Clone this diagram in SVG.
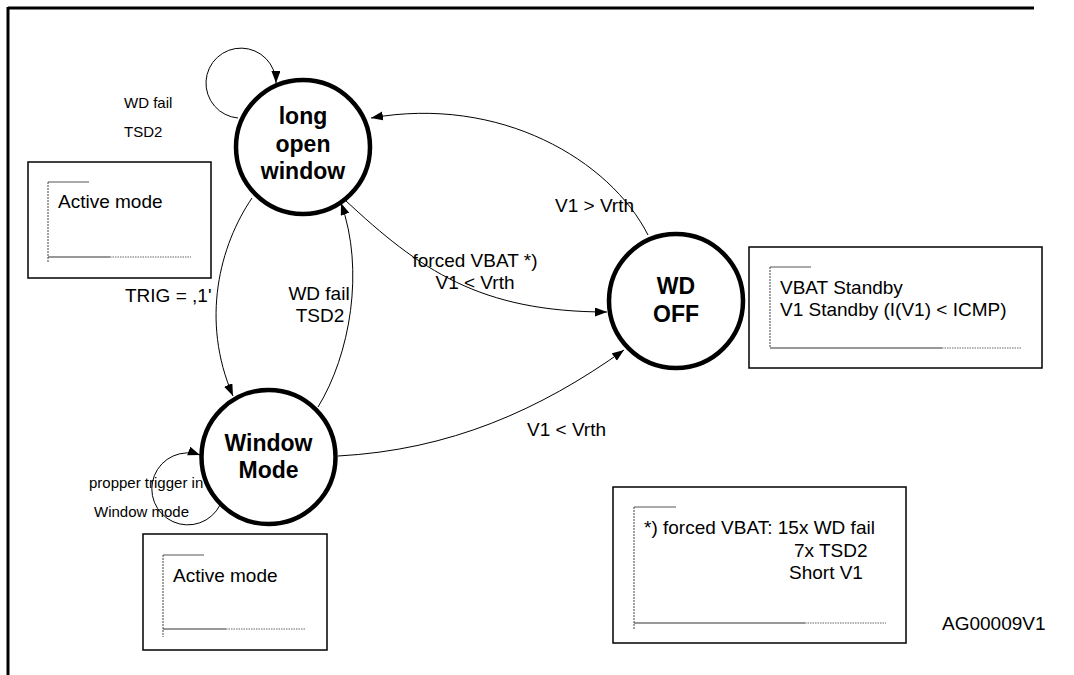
<svg xmlns="http://www.w3.org/2000/svg" width="1074" height="675" viewBox="0 0 1074 675">
<style>
text{font-family:"Liberation Sans",Arial,sans-serif;fill:#000}
.st{font-weight:bold;font-size:23px;text-anchor:middle}
.lb{font-size:19px}
.sm{font-size:15px}
.state{fill:#fff;stroke:#000;stroke-width:4.5}
.edge{fill:none;stroke:#000;stroke-width:1;marker-end:url(#ah)}
.box{fill:#fff;stroke:#000;stroke-width:1.5}
.ftop{stroke:#555;stroke-width:1}
.fvert{stroke:#444;stroke-width:1;stroke-dasharray:2,1}
.fbot{stroke:#333;stroke-width:1.2}
.fdot{stroke:#666;stroke-width:1;stroke-dasharray:1.5,1}
</style>
<defs>
<marker id="ah" markerUnits="userSpaceOnUse" markerWidth="13" markerHeight="10" refX="12" refY="4.5" orient="auto">
<path d="M0,0 L12,4.5 L0,9 z" fill="#000"/>
</marker>
</defs>
<rect x="0" y="0" width="1074" height="675" fill="#fff"/>
<g id="frame" stroke="#000" stroke-width="3" fill="none">
<line x1="8" y1="8" x2="1034" y2="8"/>
<line x1="8" y1="7" x2="8" y2="675"/>
</g>
<g id="connectors">
<path class="edge" d="M238,118 A35,35 0 1 1 276,83"/>
<text class="sm" x="124" y="108">WD fail</text>
<text class="sm" x="124" y="137">TSD2</text>
<path class="edge" d="M220,505 A36,36 0 1 1 200,455"/>
<text class="sm" x="89" y="488">propper trigger in</text>
<text class="sm" x="94" y="517">Window mode</text>
<path class="edge" d="M252,198 C220,245 200,320 233,396"/>
<text class="lb" x="125" y="302">TRIG = ,1'</text>
<path class="edge" d="M318,407 C350,355 365,270 341,203"/>
<text class="lb" x="319" y="300" text-anchor="middle">WD fail</text>
<text class="lb" x="320" y="322" text-anchor="middle">TSD2</text>
<path class="edge" d="M345,200 C420,270 480,312 607,312"/>
<text class="lb" x="475" y="267" text-anchor="middle">forced VBAT *)</text>
<text class="lb" x="475" y="289" text-anchor="middle">V1 &lt; Vrth</text>
<path class="edge" d="M648,235 C610,160 500,95 371,118"/>
<text class="lb" x="555" y="212">V1 &gt; Vrth</text>
<path class="edge" d="M338,456 C450,450 540,410 624,350"/>
<text class="lb" x="527" y="436">V1 &lt; Vrth</text>
</g>
<g id="node-long-open-window">
<circle class="state" cx="303" cy="147" r="67"/>
<text class="st" x="303" y="124">long</text>
<text class="st" x="303" y="152">open</text>
<text class="st" x="303" y="179">window</text>
</g>
<g id="node-window-mode">
<circle class="state" cx="268.5" cy="457" r="67"/>
<text class="st" x="268.5" y="451">Window</text>
<text class="st" x="268.5" y="478">Mode</text>
</g>
<g id="node-wd-off">
<circle class="state" cx="676" cy="301" r="67"/>
<text class="st" x="676" y="294">WD</text>
<text class="st" x="676" y="322">OFF</text>
</g>
<g id="note-active-1">
<rect class="box" x="28" y="162" width="183" height="116"/>
<line class="ftop" x1="48" y1="182" x2="89" y2="182"/>
<line class="fvert" x1="48" y1="182" x2="48" y2="263"/>
<line class="fbot" x1="48" y1="257" x2="110" y2="257"/>
<line class="fdot" x1="110" y1="257" x2="191" y2="257"/>
<text class="lb" x="58" y="208">Active mode</text>
</g>
<g id="note-active-2">
<rect class="box" x="143" y="534" width="184" height="116"/>
<line class="ftop" x1="163" y1="555" x2="204" y2="555"/>
<line class="fvert" x1="163" y1="555" x2="163" y2="637"/>
<line class="fbot" x1="163" y1="629" x2="226" y2="629"/>
<line class="fdot" x1="226" y1="629" x2="306" y2="629"/>
<text class="lb" x="173" y="582">Active mode</text>
</g>
<g id="note-standby">
<rect class="box" x="749" y="247" width="293" height="121"/>
<line class="ftop" x1="770" y1="267" x2="811" y2="267"/>
<line class="fvert" x1="770" y1="267" x2="770" y2="348"/>
<line class="fbot" x1="770" y1="348" x2="942" y2="348"/>
<line class="fdot" x1="942" y1="348" x2="1022" y2="348"/>
<text class="lb" x="780" y="294">VBAT Standby</text>
<text class="lb" x="780" y="316">V1 Standby (I(V1) &lt; ICMP)</text>
</g>
<g id="note-forced">
<rect class="box" x="613" y="487" width="293" height="156"/>
<line class="ftop" x1="634" y1="507" x2="676" y2="507"/>
<line class="fvert" x1="634" y1="507" x2="634" y2="629"/>
<line class="fbot" x1="634" y1="623" x2="805" y2="623"/>
<line class="fdot" x1="805" y1="623" x2="886" y2="623"/>
<text class="lb" x="644" y="534">*) forced VBAT: 15x WD fail</text>
<text class="lb" x="794" y="557">7x TSD2</text>
<text class="lb" x="789" y="579">Short V1</text>
</g>
<text class="lb" x="942" y="630">AG00009V1</text>
</svg>
